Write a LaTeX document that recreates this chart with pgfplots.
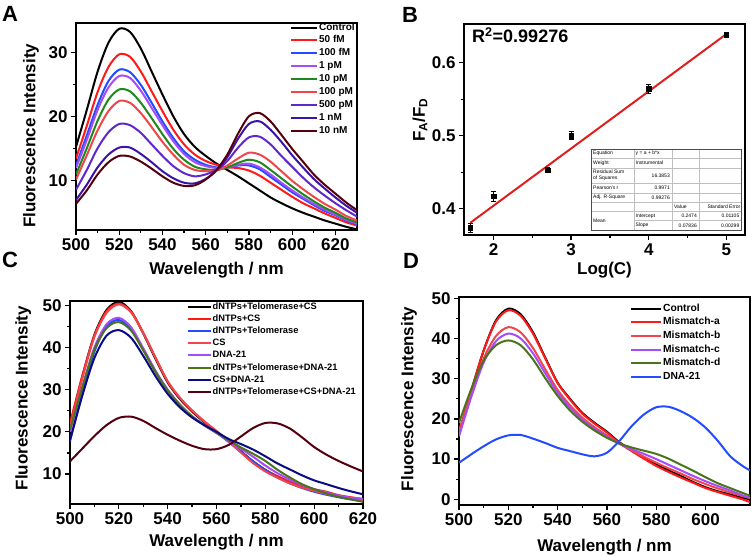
\documentclass[border=0pt]{standalone}
\usepackage{fontspec}
\setmainfont{Liberation Sans}
\usepackage{pgfplots}
\usepackage{pgfplotstable}
\pgfplotsset{compat=1.18}

\definecolor{cRed}{RGB}{255,25,25}
\definecolor{cBlue}{RGB}{35,75,255}
\definecolor{cViolet}{RGB}{165,75,250}
\definecolor{cGreen}{RGB}{30,135,30}
\definecolor{cLRed}{RGB}{240,70,75}
\definecolor{cPurp}{RGB}{95,40,205}
\definecolor{cIndigo}{RGB}{60,20,165}
\definecolor{cMaroon}{RGB}{85,0,15}
\definecolor{cOlive}{RGB}{75,115,25}
\definecolor{cNavy}{RGB}{10,10,130}

\pgfplotstableread{
x   ctrl f50  f100 p1   p10  p100 p500 n1   n10
500 15.2 13.4 12.3 11.9 10.9 10.1 8.5  6.9  6.3
505 21.0 18.5 17.0 16.3 15.0 13.9 11.6 9.3  8.4
510 27.0 23.8 21.8 21.0 19.3 17.8 15.0 12.0 10.9
515 31.5 27.7 25.5 24.5 22.6 20.8 17.5 14.0 12.8
520 33.7 29.7 27.3 26.3 24.2 22.4 18.8 15.1 13.8
525 33.2 29.3 26.9 26.0 23.9 22.1 18.6 15.1 13.7
530 30.6 27.0 24.9 24.0 22.1 20.5 17.4 14.1 12.9
535 27.0 23.9 22.1 21.3 19.7 18.3 15.6 12.8 11.8
540 23.4 20.8 19.2 18.6 17.2 16.0 13.8 11.4 10.6
545 20.0 17.9 16.6 16.1 14.9 14.0 12.2 10.3 9.6
550 17.2 15.6 14.5 14.1 13.2 12.4 11.1 9.6  9.1
555 15.2 14.0 13.2 12.8 12.1 11.6 10.6 9.5  9.2
560 13.8 13.0 12.4 12.2 11.7 11.4 10.9 10.2 10.1
565 12.6 12.4 12.0 11.9 11.6 11.5 11.6 11.5 11.6
570 11.6 12.0 12.0 12.0 12.0 12.3 13.0 13.6 14.0
575 10.6 11.9 12.3 12.4 12.7 13.4 15.1 16.5 17.3
580 9.5  11.5 12.3 12.6 13.2 14.3 16.7 18.8 20.0
585 8.4  10.7 11.7 12.0 12.8 14.0 16.8 19.2 20.5
590 7.3  9.6  10.5 10.9 11.6 12.9 15.6 17.9 19.2
595 6.4  8.5  9.3  9.6  10.3 11.4 13.8 16.0 17.1
600 5.6  7.4  8.1  8.4  9.0  9.9  12.1 13.9 14.9
605 4.9  6.4  7.1  7.3  7.8  8.6  10.4 12.0 12.9
610 4.3  5.6  6.1  6.3  6.7  7.4  8.9  10.2 10.9
615 3.7  4.8  5.2  5.4  5.7  6.3  7.6  8.7  9.3
620 3.2  4.1  4.5  4.6  4.9  5.4  6.4  7.3  7.9
625 2.7  3.4  3.7  3.8  4.0  4.4  5.3  6.0  6.5
630 2.3  2.9  3.1  3.2  3.4  3.7  4.3  4.9  5.3
}\dataA

\pgfplotstableread{
x   bk   rd   bl   cs   vi   gr   nv   mr
500 21.3 22.0 17.8 21.0 20.0 20.5 18.0 13.0
505 33.0 33.2 29.0 32.5 30.5 30.5 28.5 16.0
510 43.0 42.8 39.0 42.5 40.0 39.5 37.5 19.0
515 48.9 48.6 45.0 48.2 45.5 44.6 42.8 21.6
520 50.8 50.4 46.5 50.2 47.0 46.0 44.1 23.3
525 48.6 48.5 44.4 48.3 44.8 44.0 42.3 23.6
530 43.3 43.5 39.5 43.4 39.8 39.3 38.0 22.6
535 37.3 37.6 34.3 37.6 34.5 34.2 33.2 20.9
540 31.7 31.9 29.9 32.0 30.0 29.8 29.0 19.3
545 27.8 28.0 26.4 28.1 26.5 26.3 25.8 17.9
550 24.8 25.0 23.7 25.1 23.7 23.6 23.4 16.7
555 22.3 22.4 21.6 22.5 21.5 21.6 21.6 15.9
560 20.1 20.1 19.8 20.2 19.7 19.8 20.0 15.9
565 17.8 17.7 17.6 17.7 17.8 18.0 18.3 16.9
570 15.4 15.2 15.3 15.1 16.0 16.3 17.1 18.9
575 13.0 12.7 13.0 12.6 14.1 14.8 15.8 20.9
580 11.0 10.9 10.9 10.6 12.0 13.1 14.2 22.1
585 9.4  9.5  9.2  9.1  10.2 11.0 12.5 22.0
590 8.0  8.2  7.8  7.8  8.7  9.2  11.1 20.8
595 7.0  7.2  6.7  6.8  7.4  7.6  9.7  18.7
600 6.2  6.4  5.8  6.0  6.4  6.4  8.5  16.4
605 5.5  5.8  5.1  5.3  5.6  5.4  7.6  14.6
610 4.8  5.0  4.5  4.7  4.9  4.6  6.7  13.1
615 4.2  4.5  4.0  4.2  4.4  4.0  5.9  11.8
620 3.7  4.1  3.7  3.8  4.1  3.4  5.2  10.6
}\dataC

\pgfplotstableread{
x   bk   ra   rb   rc   rd   dna
500 16.5 16.0 17.0 15.7 19.0 9.1
505 27.0 27.0 26.5 25.5 27.5 11.2
510 37.0 37.0 35.0 34.0 34.5 13.2
515 44.5 44.2 40.6 39.3 38.3 14.9
520 47.4 47.0 42.8 41.2 39.5 15.9
525 46.0 45.6 41.5 40.0 38.3 16.0
530 41.5 41.2 37.6 36.3 34.8 15.1
535 35.2 35.0 32.3 31.3 30.1 14.0
540 29.0 28.9 27.2 26.5 25.7 12.8
545 25.0 24.8 23.4 22.8 22.1 12.0
550 21.5 21.3 20.3 19.8 19.3 11.2
555 19.0 18.8 17.9 17.5 17.1 10.7
560 16.8 16.6 15.9 15.6 15.3 11.6
565 14.2 14.0 13.9 13.8 13.9 14.5
570 12.2 12.0 12.2 12.5 12.9 18.2
575 10.4 10.1 10.6 11.3 12.1 21.1
580 8.7  8.3  9.1  10.0 11.3 22.9
585 7.2  6.8  7.7  8.6  10.1 23.0
590 5.8  5.4  6.4  7.2  8.6  21.9
595 4.3  4.1  5.0  5.8  7.1  20.2
600 3.0  2.8  3.8  4.5  5.5  17.8
605 2.0  1.8  2.7  3.3  4.0  14.5
610 1.2  0.9  1.7  2.2  2.8  10.7
615 0.4  0.0  0.8  1.0  1.6  8.3
618 0.0  -0.7 0.3  0.4  0.9  7.2
}\dataD

\pgfplotsset{
  panel/.style={
    scale only axis, anchor=south west,
    axis line style={line width=1.6pt},
    tick align=outside, xtick pos=left, ytick pos=left,
    major tick length=5pt, minor tick length=3pt,
    tick style={line width=1.3pt, black},
    minor x tick num=1, minor y tick num=1,
    xticklabel={\textbf{\pgfmathprintnumber[assume math mode=true]{\tick}}},
    yticklabel={\textbf{\pgfmathprintnumber[assume math mode=true]{\tick}}},
    tick label style={font=\bfseries\boldmath\fontsize{17}{17}\selectfont},
    label style={font=\bfseries\fontsize{17}{17}\selectfont},
    legend cell align=left,
    legend style={draw=none, fill=none, inner sep=0pt, outer sep=0pt,
      font=\bfseries\fontsize{10}{10}\selectfont,
      nodes={inner xsep=1pt, inner ysep=0pt, text height=7.5pt, text depth=2.5pt},
      row sep=2.9pt},
  },
  spec/.style={every axis plot/.append style={line width=2pt, no markers, smooth}},
}

\begin{document}
\begin{tikzpicture}
\useasboundingbox (0pt,0pt) rectangle (754pt,556pt);

% ---------------- Panel A
\begin{axis}[panel, spec,
  at={(76pt,326pt)}, width=281pt, height=207pt,
  xmin=500, xmax=630, ymin=2.2, ymax=34.6,
  xtick={500,520,...,620}, ytick={10,20,30},
  xlabel={Wavelength / nm}, ylabel={Fluorescence Intensity},
  xlabel style={at={(axis description cs:0.5,-0.217)},anchor=base},
  ylabel style={at={(axis description cs:-0.160,0.455)},anchor=center},
  legend style={at={(axis description cs:0.762,1.002)},anchor=north west},
  legend image code/.code={\draw[#1, line width=2pt] (0pt,0pt) -- (26pt,0pt);},
]
\addplot[black] table[x=x,y=ctrl]{\dataA}; \addlegendentry{Control}
\addplot[cRed] table[x=x,y=f50]{\dataA}; \addlegendentry{50 fM}
\addplot[cBlue] table[x=x,y=f100]{\dataA}; \addlegendentry{100 fM}
\addplot[cViolet] table[x=x,y=p1]{\dataA}; \addlegendentry{1 pM}
\addplot[cGreen] table[x=x,y=p10]{\dataA}; \addlegendentry{10 pM}
\addplot[cLRed] table[x=x,y=p100]{\dataA}; \addlegendentry{100 pM}
\addplot[cPurp] table[x=x,y=p500]{\dataA}; \addlegendentry{500 pM}
\addplot[cIndigo] table[x=x,y=n1]{\dataA}; \addlegendentry{1 nM}
\addplot[cMaroon] table[x=x,y=n10]{\dataA}; \addlegendentry{10 nM}
\end{axis}

% ---------------- Panel B
\begin{axis}[panel,
  at={(464pt,321pt)}, width=281pt, height=211pt,
  xmin=1.62, xmax=5.24, ymin=0.364, ymax=0.653,
  xtick={2,3,4,5}, ytick={0.4,0.5,0.6},
  yticklabel={\textbf{\pgfmathprintnumber[assume math mode=true, fixed, fixed zerofill, precision=1]{\tick}}},
  xlabel={Log(C)}, ylabel={F\textsubscript{A}/F\textsubscript{D}},
  xlabel style={at={(axis description cs:0.5,-0.185)},anchor=base},
  ylabel style={at={(axis description cs:-0.157,0.545)},anchor=center},
]
\addplot[line width=2pt, color={rgb,255:red,225;green,30;blue,30}, no markers] coordinates {(1.7,0.3806) (5,0.6392)};
\addplot[only marks, mark=square*, mark size=2.3pt, black,
  error bars/.cd, y dir=both, y explicit,
  error bar style={line width=1pt, black},
  error mark options={rotate=90, mark size=2.6pt, line width=1pt, black}]
  coordinates {
  (1.7,0.374) +- (0,0.006)
  (2,0.417) +- (0,0.007)
  (2.7,0.453) +- (0,0.004)
  (3,0.500) +- (0,0.0055)
  (4,0.564) +- (0,0.0062)
  (5,0.638) +- (0,0.003)
  };
\end{axis}

% ---------------- Panel C
\begin{axis}[panel, spec,
  at={(70pt,52pt)}, width=293pt, height=203pt,
  xmin=500, xmax=620, ymin=2.9, ymax=51,
  xtick={500,520,...,620}, ytick={10,20,...,50},
  xlabel={Wavelength / nm}, ylabel={Fluorescence Intensity},
  xlabel style={at={(axis description cs:0.5,-0.207)},anchor=base},
  ylabel style={at={(axis description cs:-0.160,0.522)},anchor=center},
  legend style={at={(axis description cs:0.398,0.995)},anchor=north west,
    font=\bfseries\fontsize{9.3}{9.3}\selectfont,
    nodes={inner xsep=1pt, inner ysep=0pt, text height=7pt, text depth=2.2pt},
    row sep=3pt},
  legend image code/.code={\draw[#1, line width=2pt] (0pt,0pt) -- (23pt,0pt);},
]
\addplot[black] table[x=x,y=bk]{\dataC}; \addlegendentry{dNTPs+Telomerase+CS}
\addplot[cRed] table[x=x,y=rd]{\dataC}; \addlegendentry{dNTPs+CS}
\addplot[cBlue] table[x=x,y=bl]{\dataC}; \addlegendentry{dNTPs+Telomerase}
\addplot[cLRed] table[x=x,y=cs]{\dataC}; \addlegendentry{CS}
\addplot[cViolet] table[x=x,y=vi]{\dataC}; \addlegendentry{DNA-21}
\addplot[cOlive] table[x=x,y=gr]{\dataC}; \addlegendentry{dNTPs+Telomerase+DNA-21}
\addplot[cNavy] table[x=x,y=nv]{\dataC}; \addlegendentry{CS+DNA-21}
\addplot[cMaroon] table[x=x,y=mr]{\dataC}; \addlegendentry{dNTPs+Telomerase+CS+DNA-21}
\end{axis}

% ---------------- Panel D
\begin{axis}[panel, spec,
  at={(459pt,51pt)}, width=291pt, height=208pt,
  xmin=500, xmax=618, ymin=-1.4, ymax=50.3,
  xtick={500,520,...,600}, ytick={0,10,...,50},
  xlabel={Wavelength / nm}, ylabel={Fluorescence Intensity},
  xlabel style={at={(axis description cs:0.5,-0.225)},anchor=base},
  ylabel style={at={(axis description cs:-0.172,0.51)},anchor=center},
  legend style={at={(axis description cs:0.588,0.969)},anchor=north west,
    font=\bfseries\fontsize{10.3}{10.3}\selectfont,
    nodes={inner xsep=1pt, inner ysep=0pt, text height=7.7pt, text depth=2.5pt},
    row sep=3.5pt},
  legend image code/.code={\draw[#1, line width=2pt] (0pt,0pt) -- (30pt,0pt);},
]
\addplot[black] table[x=x,y=bk]{\dataD}; \addlegendentry{Control}
\addplot[cRed] table[x=x,y=ra]{\dataD}; \addlegendentry{Mismatch-a}
\addplot[cLRed] table[x=x,y=rb]{\dataD}; \addlegendentry{Mismatch-b}
\addplot[cViolet] table[x=x,y=rc]{\dataD}; \addlegendentry{Mismatch-c}
\addplot[cOlive] table[x=x,y=rd]{\dataD}; \addlegendentry{Mismatch-d}
\addplot[cBlue] table[x=x,y=dna]{\dataD}; \addlegendentry{DNA-21}
\end{axis}

% ---------------- panel letters and annotations
\begin{scope}[every node/.style={inner sep=0pt, font=\bfseries\fontsize{22}{22}\selectfont}]
\node[anchor=base west] at (2pt,534pt) {A};
\node[anchor=base west] at (402pt,533pt) {B};
\node[anchor=base west] at (2pt,288pt) {C};
\node[anchor=base west] at (403pt,287pt) {D};
\end{scope}
\node[anchor=base west, inner sep=0pt, font=\bfseries\fontsize{18}{18}\selectfont] at (472pt,513.3pt) {R\textsuperscript{2}=0.99276};

% fit-report table (annotation)
\begin{scope}
\fill[white] (591pt,325.3pt) rectangle (741.3pt,407pt);
\draw[black!25, line width=0.4pt]
  (591pt,398pt) -- (741.3pt,398pt)
  (591pt,388pt) -- (741.3pt,388pt)
  (591pt,373pt) -- (741.3pt,373pt)
  (591pt,363pt) -- (741.3pt,363pt)
  (591pt,354pt) -- (741.3pt,354pt)
  (591pt,344.3pt) -- (741.3pt,344.3pt)
  (633.7pt,335.3pt) -- (741.3pt,335.3pt)
  (633.7pt,325.3pt) -- (633.7pt,407pt)
  (672pt,325.3pt) -- (672pt,407pt)
  (698.7pt,325.3pt) -- (698.7pt,407pt);
\draw[black!70, line width=0.5pt] (591pt,325.3pt) rectangle (741.3pt,407pt);
\begin{scope}[every node/.style={inner sep=0pt, font=\fontsize{5}{5.6}\selectfont}]
\node[anchor=west] at (593pt,402.5pt) {Equation};
\node[anchor=west] at (593pt,393pt) {Weight};
\node[anchor=west, align=left] at (593pt,380.5pt) {Residual Sum\\of Squares};
\node[anchor=west] at (593pt,368pt) {Pearson's r};
\node[anchor=west] at (593pt,358.5pt) {Adj. R-Square};
\node[anchor=west] at (593pt,335pt) {Mean};
\node[anchor=west] at (635.5pt,402.5pt) {y = a + b*x};
\node[anchor=west] at (635.5pt,393pt) {Instrumental};
\node[anchor=east] at (670pt,380.5pt) {16.3853};
\node[anchor=east] at (670pt,368pt) {0.9971};
\node[anchor=east] at (670pt,358.5pt) {0.99276};
\node[anchor=west] at (674pt,349.2pt) {Value};
\node[anchor=east] at (740.5pt,349.2pt) {Standard Error};
\node[anchor=west] at (635.5pt,339.8pt) {Intercept};
\node[anchor=west] at (635.5pt,330.3pt) {Slope};
\node[anchor=east] at (697pt,339.8pt) {0.2474};
\node[anchor=east] at (697pt,330.3pt) {0.07836};
\node[anchor=east] at (739.5pt,339.8pt) {0.01105};
\node[anchor=east] at (739.5pt,330.3pt) {0.00299};
\end{scope}
\end{scope}
\end{tikzpicture}
\end{document}
